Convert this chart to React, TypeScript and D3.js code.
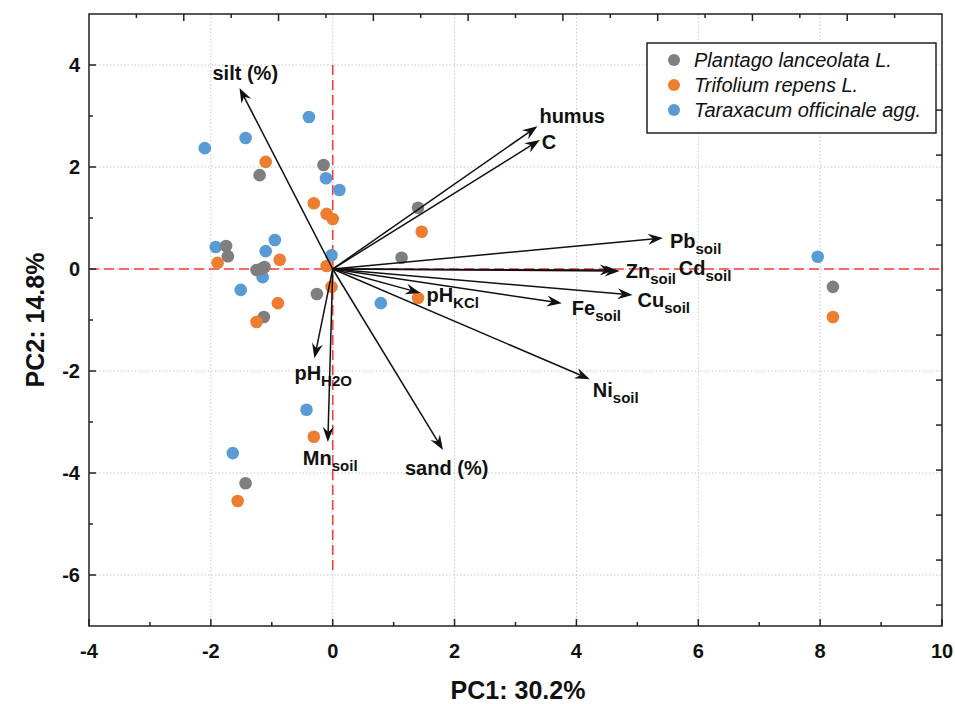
import React from "react";
import * as d3 from "d3";

const W = 955;
const H = 704;

// axis ticks
const xTickValues = [-4, -2, 0, 2, 4, 6, 8, 10];
const xMinorTicks = [-3, -1, 1, 3, 5, 7, 9];
const yTickValues = [4, 2, 0, -2, -4, -6];
const yMinorTicks = [3, 1, -1, -3, -5];

// species
const speciesNames = ["Plantago lanceolata L.", "Trifolium repens L.", "Taraxacum officinale agg."];
const speciesColors = ["#7f7f7f", "#ed7d31", "#5b9bd5"];

// scores
const plantagoPC1 = [-1.2, -0.15, -1.75, -1.72, -1.25, -1.12, -0.26, -1.13, 1.4, 1.13, 8.21, -1.43, -1.18];
const plantagoPC2 = [1.84, 2.04, 0.45, 0.25, -0.02, 0.04, -0.49, -0.94, 1.2, 0.22, -0.35, -4.2, 0.0];
const trifoliumPC1 = [-1.1, -0.31, -0.1, 0.0, -0.1, -1.89, -0.87, -0.02, -0.9, -1.25, 1.46, 1.4, 8.21, -0.31, -1.56];
const trifoliumPC2 = [2.1, 1.29, 1.08, 0.98, 0.06, 0.12, 0.18, -0.35, -0.67, -1.04, 0.73, -0.57, -0.94, -3.29, -4.55];
const taraxacumPC1 = [-2.1, -1.43, -0.39, -0.11, 0.11, -0.02, -1.92, -0.95, -1.1, -1.15, -1.51, 0.79, 7.96, -0.43, -1.64];
const taraxacumPC2 = [2.37, 2.57, 2.98, 1.78, 1.55, 0.27, 0.43, 0.57, 0.35, -0.16, -0.41, -0.67, 0.24, -2.76, -3.61];

// loading vectors
const vectorMain = ["silt (%)", "humus", "C", "Pb", "Zn", "Cd", "Cu", "Fe", "pH", "Ni", "sand (%)", "Mn", "pH"];
const vectorSub = ["", "", "", "soil", "soil", "soil", "soil", "soil", "KCl", "soil", "", "soil", "H2O"];
const vectorPC1 = [-1.53, 3.36, 3.4, 5.42, 4.71, 4.63, 4.92, 3.76, 1.44, 4.22, 1.81, -0.08, -0.3];
const vectorPC2 = [3.55, 2.8, 2.53, 0.61, -0.04, -0.02, -0.51, -0.67, -0.47, -2.16, -3.55, -3.39, -1.75];

// label placement (pixel offsets from arrow tip)
const labelDx = [-27, 2, 2, 7, 6, 64, 5, 10, 6, 3, -38, -25, -20];
const labelDy = [-8, -3, 9, 10, 7, 5, 12, 12, 9, 18, 25, 23, 22];

const M = { left: 89, right: 942, top: 14, bottom: 626 };

export default function App() {
  const x = d3.scaleLinear().domain([-4, 10]).range([M.left, M.right]);
  const y = d3.scaleLinear().domain([-7, 5]).range([M.bottom, M.top]);
  // secondary (loading) scales for the top and right frame ticks
  const xTop = d3.scaleLinear().domain([-0.9, 0.9]).range([M.left, M.right]);
  const yRight = d3.scaleLinear().domain([-1.493, 1.227]).range([M.bottom, M.top]);
  const topTicks = d3.range(1, 18).map((i) => ({ v: -0.9 + i * 0.1, long: i % 2 === 0 }));
  const rightTicks = d3.range(0, 12).map((i) => -1.4 + i * 0.2);

  const series = [
    { pc1: taraxacumPC1, pc2: taraxacumPC2, color: speciesColors[2] },
    { pc1: plantagoPC1, pc2: plantagoPC2, color: speciesColors[0] },
    { pc1: trifoliumPC1, pc2: trifoliumPC2, color: speciesColors[1] },
  ];

  const font = "'Liberation Sans', Arial, sans-serif";
  const ox = x(0);
  const oy = y(0);

  return (
    <svg width={W} height={H} style={{ position: "absolute", left: 0, top: 0, display: "block", background: "#fff" }} fontFamily={font}>
      <rect x={0} y={0} width={W} height={H} fill="#fff" />
      {/* grid */}
      {xTickValues.filter((v) => v > -4 && v < 10).map((v) => (
        <line key={"gx" + v} x1={x(v)} x2={x(v)} y1={M.top} y2={M.bottom} stroke="#c8c8c8" strokeWidth={1} strokeDasharray="1.5,2" />
      ))}
      {yTickValues.map((v) => (
        <line key={"gy" + v} x1={M.left} x2={M.right} y1={y(v)} y2={y(v)} stroke="#c8c8c8" strokeWidth={1} strokeDasharray="1.5,2" />
      ))}
      {/* red reference lines */}
      <line x1={M.left} x2={M.right} y1={oy} y2={oy} stroke="#ff3b3b" strokeWidth={1.6} strokeDasharray="10,5" />
      <line x1={ox} x2={ox} y1={y(4)} y2={y(-6)} stroke="#ff3b3b" strokeWidth={1.6} strokeDasharray="10,5" />

      {/* points */}
      {series.map((s, si) =>
        s.pc1.map((v, i) => (
          <circle key={"p" + si + "-" + i} cx={x(v)} cy={y(s.pc2[i])} r={6.3} fill={s.color} />
        ))
      )}

      {/* vectors */}
      {vectorPC1.map((v, i) => {
        const tx = x(v);
        const ty = y(vectorPC2[i]);
        const a = Math.atan2(ty - oy, tx - ox);
        const ang = (a * 180) / Math.PI;
        return (
          <g key={"v" + i}>
            <line x1={ox} y1={oy} x2={tx - 8 * Math.cos(a)} y2={ty - 8 * Math.sin(a)} stroke="#111" strokeWidth={1.5} />
            <path d="M0,0 L-15,-5.5 L-10,0 L-15,5.5 Z" fill="#111" transform={`translate(${tx},${ty}) rotate(${ang})`} />
          </g>
        );
      })}
      {vectorPC1.map((v, i) => (
        <text key={"vl" + i} x={x(v) + labelDx[i]} y={y(vectorPC2[i]) + labelDy[i]} fontSize={20} fontWeight="bold" fill="#111">
          {vectorMain[i]}
          {vectorSub[i] ? (
            <tspan dy={6} fontSize={15}>{vectorSub[i]}</tspan>
          ) : null}
        </text>
      ))}

      {/* frame */}
      <rect x={M.left} y={M.top} width={M.right - M.left} height={M.bottom - M.top} fill="none" stroke="#222" strokeWidth={1.5} />
      {/* bottom ticks */}
      {xTickValues.map((v) => (
        <line key={"bt" + v} x1={x(v)} x2={x(v)} y1={M.bottom} y2={M.bottom - 7} stroke="#222" strokeWidth={1.5} />
      ))}
      {xMinorTicks.map((v) => (
        <line key={"btm" + v} x1={x(v)} x2={x(v)} y1={M.bottom} y2={M.bottom - 4} stroke="#222" strokeWidth={1.5} />
      ))}
      {/* left ticks */}
      {yTickValues.map((v) => (
        <line key={"lt" + v} x1={M.left} x2={M.left + 7} y1={y(v)} y2={y(v)} stroke="#222" strokeWidth={1.5} />
      ))}
      {yMinorTicks.map((v) => (
        <line key={"ltm" + v} x1={M.left} x2={M.left + 4} y1={y(v)} y2={y(v)} stroke="#222" strokeWidth={1.5} />
      ))}
      {/* top ticks */}
      {topTicks.map((t, i) => (
        <line key={"tt" + i} x1={xTop(t.v)} x2={xTop(t.v)} y1={M.top} y2={M.top + (t.long ? 7 : 4)} stroke="#222" strokeWidth={1.5} />
      ))}
      {/* right ticks */}
      {rightTicks.map((v, i) => (
        <line key={"rt" + i} x1={M.right} x2={M.right - 6} y1={yRight(v)} y2={yRight(v)} stroke="#222" strokeWidth={1.5} />
      ))}

      {/* tick labels */}
      {xTickValues.map((v) => (
        <text key={"xl" + v} x={x(v)} y={658} textAnchor="middle" fontSize={20} fontWeight="bold" fill="#111">
          {v}
        </text>
      ))}
      {yTickValues.map((v) => (
        <text key={"yl" + v} x={80} y={y(v) + 7} textAnchor="end" fontSize={20} fontWeight="bold" fill="#111">
          {v}
        </text>
      ))}

      {/* axis titles */}
      <text x={518} y={699} textAnchor="middle" fontSize={25} fontWeight="bold" fill="#111">
        PC1: 30.2%
      </text>
      <text transform={`translate(44,${(M.top + M.bottom) / 2}) rotate(-90)`} textAnchor="middle" fontSize={25} fontWeight="bold" fill="#111">
        PC2: 14.8%
      </text>

      {/* legend */}
      <rect x={647} y={43} width={289} height={90} fill="#fff" stroke="#222" strokeWidth={1.5} />
      {speciesNames.map((n, i) => (
        <g key={"lg" + i}>
          <circle cx={674} cy={60 + i * 25} r={6} fill={speciesColors[i]} />
          <text x={694} y={67 + i * 25} fontSize={20} fontStyle="italic" fill="#111">
            {n}
          </text>
        </g>
      ))}
    </svg>
  );
}
